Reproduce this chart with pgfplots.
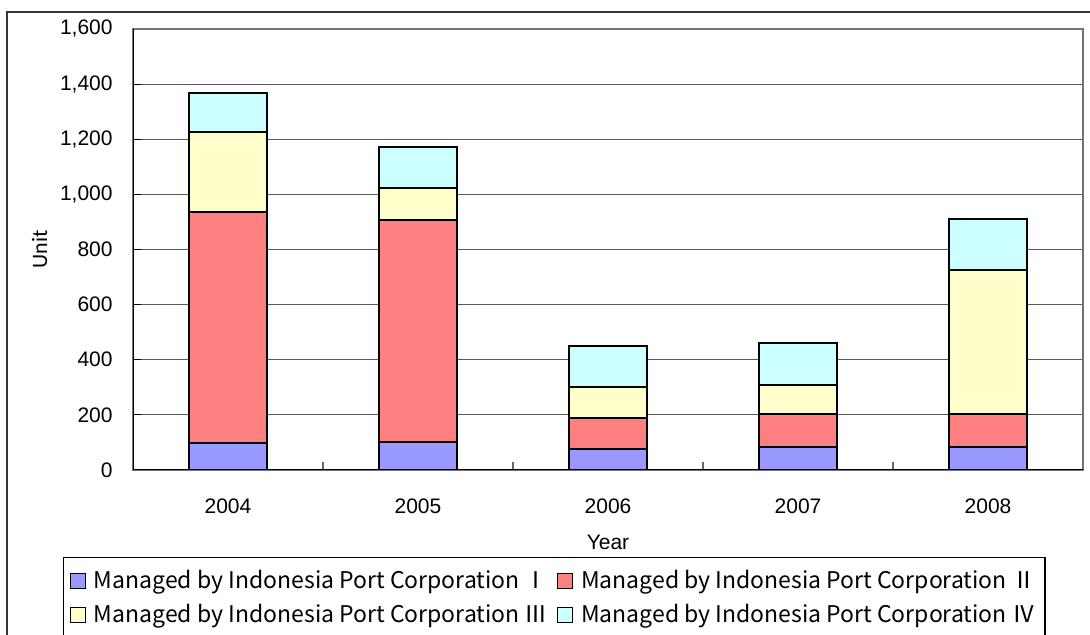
\documentclass[border=0pt]{standalone}
\usepackage{pgfplots}
\pgfplotsset{compat=1.18}
\usepackage{fontspec}
\setmainfont{Liberation Sans}
\newfontfamily\legendfont{Noto Sans CJK JP}
\newfontfamily\unitfont{Carlito}
\definecolor{cI}{RGB}{153,153,255}
\definecolor{cII}{RGB}{255,128,128}
\definecolor{cIII}{RGB}{255,255,204}
\definecolor{cIV}{RGB}{204,255,255}
\begin{document}
\begin{tikzpicture}
\useasboundingbox (0,0) rectangle (545pt,317.5pt);
\draw[line width=0.8pt, black!80] (3.5pt,-2pt) -- (3.5pt,311.5pt) -- (548pt,311.5pt);
\begin{axis}[
  at={(66.5pt,82.5pt)}, anchor=south west,
  scale only axis, width=475pt, height=220.5pt,
  ybar stacked, bar width=39pt,
  xmin=-0.5, xmax=4.5, ymin=0, ymax=1600,
  xtick={0,1,2,3,4}, xticklabels={2004,2005,2006,2007,2008},
  minor xtick={0.5,1.5,2.5,3.5},
  ytick={0,200,...,1600},
  tick align=inside, tick pos=left,
  major tick length=4pt, minor tick length=4pt,
  xtick style={draw=none},
  minor x tick style={draw=black!60, line width=0.6pt},
  ytick style={draw=black, line width=0.5pt},
  ymajorgrids, grid style={black!65, line width=0.6pt},
  axis line style={draw=black!55, line width=0.7pt},
  /pgf/number format/assume math mode=true,
  /pgf/number format/1000 sep={,},
  yticklabel style={font=\fontsize{10.5}{12}\selectfont, inner sep=0pt, xshift=-10pt},
  xticklabel style={font=\fontsize{10.5}{12}\selectfont, inner sep=0pt, anchor=north, yshift=-14pt},
  xlabel={Year},
  xlabel style={font=\fontsize{10.5}{12}\selectfont, at={(axis description cs:0.5,0)}, anchor=north, inner sep=0pt, yshift=-32.5pt},
  ylabel={Unit},
  ylabel style={font=\unitfont\fontsize{11}{13}\selectfont, at={(axis description cs:-0.0982,0.5)}, anchor=center, rotate=0},
  legend columns=2,
  legend cell align=left,
  legend image code/.code={\draw[#1, line width=0.6pt] (0pt,-3.75pt) rectangle (7.5pt,3.75pt);},
  legend style={at={(axis description cs:-0.0737,-0.1973)}, anchor=north west,
    draw=black, line width=0.7pt, inner sep=3pt,
    font=\legendfont\fontsize{11.5}{13}\selectfont,
    nodes={inner sep=0pt, minimum height=17pt},
    /tikz/every odd column/.append style={column sep=4pt},
    /tikz/every even column/.append style={column sep=0pt}},
  every axis plot/.append style={draw=black, line width=1pt},
]
\addplot[fill=cI] coordinates {(0,98) (1,102) (2,77) (3,83) (4,83)};
\addplot[fill=cII] coordinates {(0,839) (1,806) (2,111) (3,120) (4,120)};
\addplot[fill=cIII] coordinates {(0,289) (1,115) (2,113) (3,104) (4,523)};
\addplot[fill=cIV] coordinates {(0,142) (1,148) (2,148) (3,155) (4,185)};
\addlegendentry{\makebox[231.5pt][l]{Managed by Indonesia Port Corporation Ⅰ}}
\addlegendentry{\makebox[229pt][l]{Managed by Indonesia Port Corporation Ⅱ}}
\addlegendentry{\makebox[231.5pt][l]{Managed by Indonesia Port Corporation Ⅲ}}
\addlegendentry{\makebox[229pt][l]{Managed by Indonesia Port Corporation Ⅳ}}
\draw[black, line width=0.8pt] (axis cs:-0.5,1600) -- (axis cs:-0.5,0) -- (axis cs:4.5,0);
\end{axis}
\end{tikzpicture}
\end{document}
